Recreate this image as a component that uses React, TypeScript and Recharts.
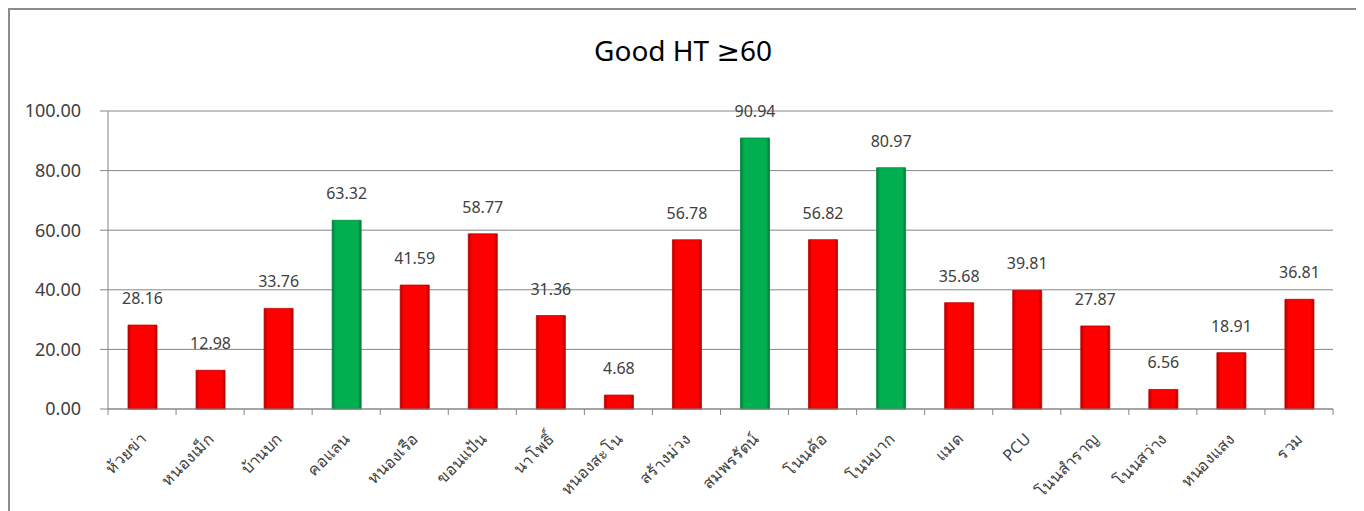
import React from "react";
import { BarChart, Bar, XAxis, YAxis, CartesianGrid, LabelList, Cell } from "recharts";

const categories = [
  "ห้วยข่า", "หนองเม็ก", "บ้านบก", "คอแลน", "หนองเรือ", "ขอนแป้น", "นาโพธิ์", "หนองสะโน", "สร้างม่วง",
  "สมพรรัตน์", "โนนค้อ", "โนนบาก", "แมด", "PCU", "โนนสำราญ", "โนนสว่าง", "หนองแสง", "รวม",
];
const values = [28.16, 12.98, 33.76, 63.32, 41.59, 58.77, 31.36, 4.68, 56.78, 90.94, 56.82, 80.97, 35.68, 39.81, 27.87, 6.56, 18.91, 36.81];
const yTicks = [0, 20, 40, 60, 80, 100];
const title = "Good HT ≥60";
const threshold = 60;

const data = categories.map((name, i) => ({ name, value: values[i] }));

const W = 1346;
const H = 500;
const M = { top: 101, right: 23, left: 0, bottom: 0 };
const YW = 98;
const step = (W - M.left - M.right - YW) / categories.length;
const FONT = "'Noto Sans', 'DejaVu Sans', sans-serif";
const AXIS = "#868686";

const XTick = (props: any) => {
  const { x, y, payload, index } = props;
  const last = index === categories.length - 1;
  const tx = x + 5;
  const ty = y + 23;
  return (
    <g>
      <line x1={x - step / 2} x2={x - step / 2} y1={y - 8} y2={y - 2} stroke={AXIS} />
      {last && <line x1={x + step / 2} x2={x + step / 2} y1={y - 8} y2={y - 2} stroke={AXIS} />}
      <text
        x={tx}
        y={ty}
        transform={`rotate(-45, ${tx}, ${ty})`}
        textAnchor="end"
        fontSize={16}
        fill="#404040"
        fontFamily={FONT}
      >
        {payload.value}
      </text>
    </g>
  );
};

export default function App() {
  return (
    <div
      style={{
        position: "relative",
        width: W,
        height: 503,
        borderTop: "2px solid #8c8c8c",
        borderLeft: "2px solid #8c8c8c",
        borderRight: "2px solid #8c8c8c",
        boxSizing: "content-box",
        fontFamily: FONT,
        overflow: "hidden",
      }}
    >
      <div
        style={{
          position: "absolute",
          top: 21,
          left: 0,
          width: W,
          textAlign: "center",
          fontSize: 28,
          color: "#000",
        }}
      >
        {title}
      </div>
      <BarChart width={W} height={H} data={data} margin={M} barSize={29}>
        <defs>
          <linearGradient id="gRed" x1="0" y1="0" x2="1" y2="0">
            <stop offset="0%" stopColor="#b00000" />
            <stop offset="12%" stopColor="#ff0000" />
            <stop offset="88%" stopColor="#ff0000" />
            <stop offset="100%" stopColor="#b00000" />
          </linearGradient>
          <linearGradient id="gGreen" x1="0" y1="0" x2="1" y2="0">
            <stop offset="0%" stopColor="#007a38" />
            <stop offset="12%" stopColor="#00b050" />
            <stop offset="88%" stopColor="#00b050" />
            <stop offset="100%" stopColor="#007a38" />
          </linearGradient>
        </defs>
        <CartesianGrid vertical={false} stroke={AXIS} strokeDasharray="" />
        <XAxis
          dataKey="name"
          height={101}
          interval={0}
          tickLine={false}
          axisLine={{ stroke: AXIS }}
          tick={<XTick />}
        />
        <YAxis
          width={YW}
          domain={[0, 100]}
          ticks={yTicks}
          interval={0}
          tickSize={8}
          tickMargin={19}
          tickLine={{ stroke: AXIS }}
          axisLine={{ stroke: AXIS }}
          tickFormatter={(v: number) => v.toFixed(2)}
          tick={{ fontSize: 18, fill: "#404040", fontFamily: FONT }}
        />
        <Bar dataKey="value" isAnimationActive={false}>
          {data.map((d, i) => (
            <Cell
              key={i}
              fill={d.value >= threshold ? "url(#gGreen)" : "url(#gRed)"}
              stroke={d.value >= threshold ? "#008a3e" : "#c00000"}
              strokeWidth={0.8}
            />
          ))}
          <LabelList
            dataKey="value"
            position="top"
            offset={21}
            formatter={(v: number) => v.toFixed(2)}
            style={{ fontSize: 16, fill: "#404040", fontFamily: FONT }}
          />
        </Bar>
      </BarChart>
    </div>
  );
}
